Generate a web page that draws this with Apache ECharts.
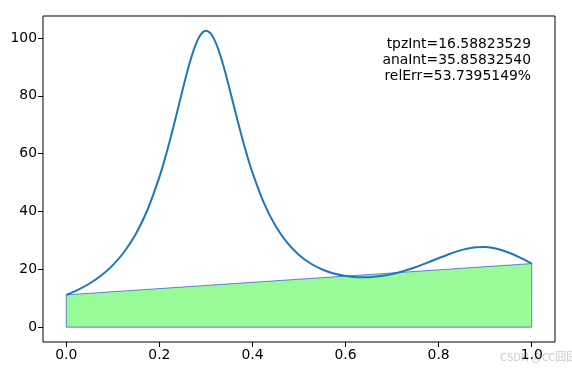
<!DOCTYPE html>
<html>
<head>
<meta charset="utf-8">
<script src="https://cdn.jsdelivr.net/npm/echarts@6/dist/echarts.min.js"></script>
<style>html,body{margin:0;padding:0;background:#fff}#c{width:572px;height:370px}</style>
</head>
<body>
<div id="c"></div>
<script>
const xs = [0,0.025,0.05,0.075,0.1,0.125,0.15,0.175,0.2,0.2125,0.225,0.2375,0.25,0.2625,0.275,0.2875,0.3,0.3125,0.325,0.3375,0.35,0.3625,0.375,0.3875,0.4,0.425,0.45,0.475,0.5,0.525,0.55,0.575,0.6,0.625,0.65,0.675,0.7,0.725,0.75,0.775,0.8,0.825,0.85,0.875,0.9,0.925,0.95,0.975,1.0];
const ys = [11.18,12.92,15.10,17.88,21.47,26.18,32.43,40.79,51.89,58.59,66.02,74.00,82.16,89.91,96.44,100.87,102.5,101.06,96.82,90.48,82.92,74.95,67.17,59.94,53.45,42.79,34.89,29.15,25.00,22.03,19.95,18.55,17.69,17.30,17.30,17.67,18.38,19.41,20.71,22.22,23.85,25.42,26.73,27.55,27.70,27.11,25.84,24.07,22.00];
const trapX = [0, 0, 1, 1, 0];
const trapY = [0, 11.18, 22.0, 0, 0];
const xTicks = [0,0.2,0.4,0.6,0.8,1.0];
const yTicks = [0,20,40,60,80,100];
const annot = ['tpzInt=16.58823529','anaInt=35.85832540','relErr=53.7395149%'];

const curvePts = xs.map((x,i)=>[x,ys[i]]);
const trapPts = trapX.map((x,i)=>[x,trapY[i]]);
const trapTop = [trapPts[1], trapPts[2]];
const font = 'DejaVu Sans';
const chart = echarts.init(document.getElementById('c'));
chart.setOption({
  animation:false,
  grid:{left:43,right:17,top:16,bottom:28,show:true,borderColor:'#000',borderWidth:1,backgroundColor:'transparent'},
  xAxis:{type:'value',min:-0.05,max:1.05,
    axisLine:{show:false,onZero:false},splitLine:{show:false},
    axisTick:{show:true,length:5,inside:false,lineStyle:{color:'#000'},customValues:xTicks},
    axisLabel:{color:'#000',fontFamily:font,fontSize:13.9,margin:6,customValues:xTicks,formatter:v=>v.toFixed(1)}},
  yAxis:{type:'value',min:-5.125,max:107.625,
    axisLine:{show:false,onZero:false},splitLine:{show:false},
    axisTick:{show:true,length:5,lineStyle:{color:'#000'},customValues:yTicks},
    axisLabel:{color:'#000',fontFamily:font,fontSize:13.9,margin:6,customValues:yTicks}},
  series:[
    {type:'line',data:trapTop,symbol:'none',lineStyle:{width:0},areaStyle:{color:'#98fb98',opacity:1,origin:0},z:1},
    {type:'line',data:trapPts,symbol:'none',lineStyle:{color:'rgba(0,0,255,0.5)',width:1},z:2},
    {type:'line',data:curvePts,symbol:'none',smooth:0.3,lineStyle:{color:'#1f77b4',width:2},z:3}
  ],
  graphic:[
    {type:'text',right:41,top:36,style:{text:annot.join('\n'),fill:'#000',font:'13.9px "DejaVu Sans"',textAlign:'right',lineHeight:16}},
    {type:'text',left:500,top:351,style:{text:'CSDN @CC囧囧',fill:'#ccc',font:'11px "Noto Sans CJK SC"'}}
  ]
});
</script>
</body>
</html>
